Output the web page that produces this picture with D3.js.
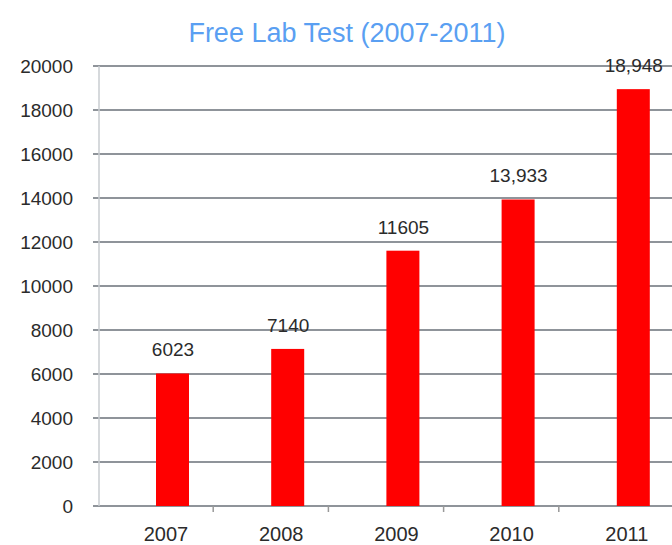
<!DOCTYPE html>
<html>
<head>
<meta charset="utf-8">
<script src="https://cdn.jsdelivr.net/npm/d3@7"></script>
<style>
  body { margin: 0; background: #fff; }
  text { font-family: "Liberation Sans", Arial, sans-serif; }
</style>
</head>
<body>
<svg id="chart" width="672" height="545"></svg>
<script>
// chart values
var years = ["2007", "2008", "2009", "2010", "2011"];
var tests = [6023, 7140, 11605, 13933, 18948];
var valueLabels = ["6023", "7140", "11605", "13,933", "18,948"];
var yTicks = [0, 2000, 4000, 6000, 8000, 10000, 12000, 14000, 16000, 18000, 20000];

var svg = d3.select("#chart");

var x = d3.scaleBand()
  .domain(years)
  .range([98, 674]);

var y = d3.scaleLinear()
  .domain([0, 20000])
  .range([506, 66]);

// title
svg.append("text")
  .attr("x", 347)
  .attr("y", 42)
  .attr("text-anchor", "middle")
  .attr("font-size", 27)
  .attr("fill", "#5a9ff2")
  .text("Free Lab Test (2007-2011)");

// horizontal grid lines
svg.selectAll(".grid")
  .data(yTicks)
  .enter()
  .append("line")
  .attr("x1", 93)
  .attr("x2", 672)
  .attr("y1", function(d) { return y(d); })
  .attr("y2", function(d) { return y(d); })
  .attr("stroke", "#8f949a")
  .attr("stroke-width", 2);

// y axis line
svg.append("line")
  .attr("x1", 99).attr("x2", 99)
  .attr("y1", y(20000)).attr("y2", y(0))
  .attr("stroke", "#c9ccd0")
  .attr("stroke-width", 1.5);

// y tick labels
svg.selectAll(".ylab")
  .data(yTicks)
  .enter()
  .append("text")
  .attr("x", 73)
  .attr("y", function(d) { return y(d) + 7; })
  .attr("text-anchor", "end")
  .attr("font-size", 19)
  .attr("fill", "#2b2b2b")
  .text(function(d) { return d; });

// x ticks at band boundaries
svg.selectAll(".xtick")
  .data(years.slice(1))
  .enter()
  .append("line")
  .attr("x1", function(d) { return x(d); })
  .attr("x2", function(d) { return x(d); })
  .attr("y1", y(0))
  .attr("y2", y(0) + 6)
  .attr("stroke", "#999")
  .attr("stroke-width", 1.5);

// bars
svg.selectAll(".bar")
  .data(tests)
  .enter()
  .append("rect")
  .attr("x", function(d, i) { return x(years[i]) + 58; })
  .attr("width", 33)
  .attr("y", function(d) { return y(d); })
  .attr("height", function(d) { return y(0) - y(d); })
  .attr("fill", "#ff0000");

// value labels
svg.selectAll(".val")
  .data(tests)
  .enter()
  .append("text")
  .attr("x", function(d, i) { return x(years[i]) + 75; })
  .attr("y", function(d) { return y(d) - 17; })
  .attr("text-anchor", "middle")
  .attr("font-size", 19)
  .attr("fill", "#2b2b2b")
  .text(function(d, i) { return valueLabels[i]; });

// x labels
svg.selectAll(".xlab")
  .data(years)
  .enter()
  .append("text")
  .attr("x", function(d) { return x(d) + 68; })
  .attr("y", 541)
  .attr("text-anchor", "middle")
  .attr("font-size", 20)
  .attr("fill", "#2b2b2b")
  .text(function(d) { return d; });
</script>
</body>
</html>
